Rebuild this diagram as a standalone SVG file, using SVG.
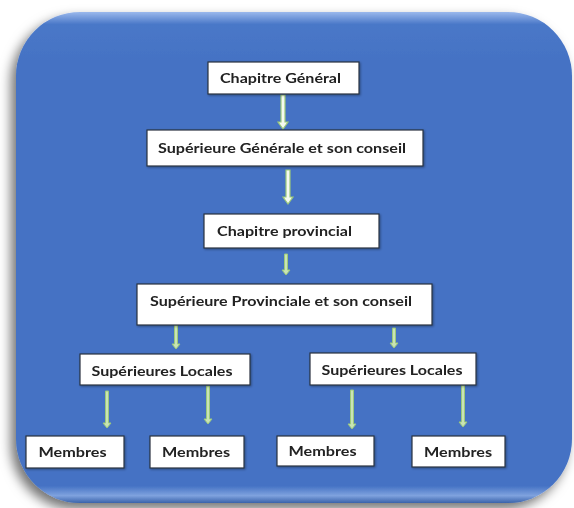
<svg xmlns="http://www.w3.org/2000/svg" width="574" height="508" viewBox="0 0 574 508">
<defs>
<filter id="shadow" x="-10%" y="-10%" width="120%" height="125%">
<feGaussianBlur in="SourceAlpha" stdDeviation="6"/>
<feOffset dx="-5" dy="6" result="b"/>
<feFlood flood-color="#000" flood-opacity="0.55"/>
<feComposite in2="b" operator="in"/>
<feMerge><feMergeNode/><feMergeNode in="SourceGraphic"/></feMerge>
</filter>
<linearGradient id="bevel" x1="0" y1="0" x2="0" y2="1">
<stop offset="0" stop-color="#9ab8ec"/>
<stop offset="0.025" stop-color="#4a78c8"/>
<stop offset="0.1" stop-color="#4472C4"/>
<stop offset="0.965" stop-color="#4472C4"/>
<stop offset="0.985" stop-color="#7fa2de"/>
<stop offset="1" stop-color="#3a62aa"/>
</linearGradient>
<filter id="bs" x="-5%" y="-10%" width="110%" height="130%">
<feGaussianBlur in="SourceAlpha" stdDeviation="1"/>
<feOffset dx="1" dy="1" result="b"/>
<feFlood flood-color="#000" flood-opacity="0.35"/>
<feComposite in2="b" operator="in"/>
<feMerge><feMergeNode/><feMergeNode in="SourceGraphic"/></feMerge>
</filter>
</defs>
<style>
.box{fill:#ffffff;stroke:#2a3140;stroke-width:1.2}
.t{font-family:Lato,"Liberation Sans",Arial,sans-serif;font-weight:bold;font-size:14px;fill:#222;}
.arr{fill:#f4faf0;stroke:#9cc97a;stroke-width:1.2}
.arr2{fill:#c9e4b4;stroke:#9cc97a;stroke-width:1}
</style>
<rect x="16" y="12" width="556" height="491" rx="64" ry="64" fill="url(#bevel)" filter="url(#shadow)"/>
<g id="connectors">
<polygon class="arr" points="281,95 285,95 285,122 288,122 283,129 278,122 281,122"/>
<polygon class="arr" points="286,170 290,170 290,197 293,197 288,204 283,197 286,197"/>
<polygon class="arr2" points="284.5,254 287.5,254 287.5,270 290,270 286,275 282,270 284.5,270"/>
<polygon class="arr2" points="174.5,325 177.5,325 177.5,344 180,344 176,349 172,344 174.5,344"/>
<polygon class="arr2" points="392.5,328 395.5,328 395.5,343 398,343 394,348 390,343 392.5,343"/>
<polygon class="arr2" points="105.5,391 108.5,391 108.5,423 111,423 107,428 103,423 105.5,423"/>
<polygon class="arr2" points="206.5,386 209.5,386 209.5,419 212,419 208,424 204,419 206.5,419"/>
<polygon class="arr2" points="350.5,390 353.5,390 353.5,424 356,424 352,429 348,424 350.5,424"/>
<polygon class="arr2" points="461.5,385 464.5,385 464.5,422 467,422 463,427 459,422 461.5,422"/>
</g>
<g id="chapitre-general" filter="url(#bs)"><rect class="box" x="208" y="62" width="151" height="32"/><text class="t" x="220" y="83" textLength="121" lengthAdjust="spacingAndGlyphs">Chapitre Général</text></g>
<g id="superieure-generale" filter="url(#bs)"><rect class="box" x="147" y="130" width="276" height="36"/><text class="t" x="158" y="153" textLength="248" lengthAdjust="spacingAndGlyphs">Supérieure Générale et son conseil</text></g>
<g id="chapitre-provincial" filter="url(#bs)"><rect class="box" x="204" y="214" width="175" height="34"/><text class="t" x="217" y="236" textLength="135" lengthAdjust="spacingAndGlyphs">Chapitre provincial</text></g>
<g id="superieure-provinciale" filter="url(#bs)"><rect class="box" x="137" y="284" width="295" height="41"/><text class="t" x="150" y="306" textLength="262" lengthAdjust="spacingAndGlyphs">Supérieure Provinciale et son conseil</text></g>
<g id="locales-1" filter="url(#bs)"><rect class="box" x="80" y="354" width="170" height="31"/><text class="t" x="91.5" y="376" textLength="141" lengthAdjust="spacingAndGlyphs">Supérieures Locales</text></g>
<g id="locales-2" filter="url(#bs)"><rect class="box" x="310" y="353" width="166" height="32"/><text class="t" x="321.5" y="375" textLength="141" lengthAdjust="spacingAndGlyphs">Supérieures Locales</text></g>
<g id="membres-1" filter="url(#bs)"><rect class="box" x="26" y="436" width="98" height="32"/><text class="t" x="38.5" y="457" textLength="68" lengthAdjust="spacingAndGlyphs">Membres</text></g>
<g id="membres-2" filter="url(#bs)"><rect class="box" x="150" y="436" width="94" height="32"/><text class="t" x="162" y="457" textLength="68" lengthAdjust="spacingAndGlyphs">Membres</text></g>
<g id="membres-3" filter="url(#bs)"><rect class="box" x="277" y="436" width="97" height="30"/><text class="t" x="288.5" y="456" textLength="68" lengthAdjust="spacingAndGlyphs">Membres</text></g>
<g id="membres-4" filter="url(#bs)"><rect class="box" x="412" y="436" width="93" height="31"/><text class="t" x="424" y="457" textLength="68" lengthAdjust="spacingAndGlyphs">Membres</text></g>
</svg>
